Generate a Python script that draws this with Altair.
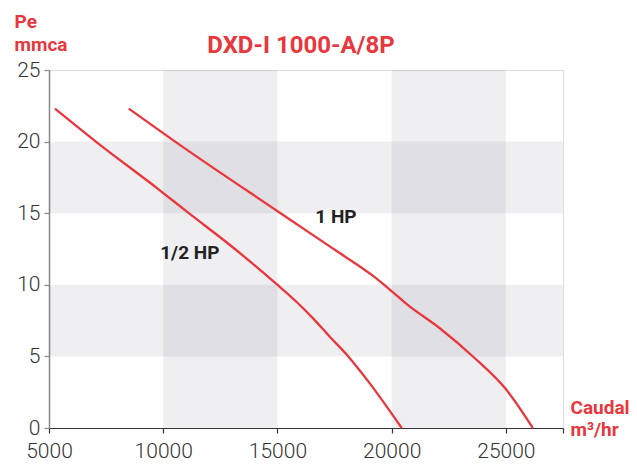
import altair as alt
import pandas as pd

# ---- data ----
half_x = [5260, 7050, 9850, 11120, 12920, 14965, 15840, 16570, 17300, 18100, 19050, 20440]
half_y = [22.3, 20.0, 16.6, 15.0, 12.78, 10.04, 8.8, 7.64, 6.36, 5.0, 3.1, 0.0]
one_x = [8490, 10520, 15135, 16900, 17740, 19200, 19930, 20660, 22120, 23580, 25040, 26180]
one_y = [22.3, 20.0, 15.0, 13.1, 12.2, 10.6, 9.65, 8.65, 6.95, 4.96, 2.63, 0.0]

label_text = ["1/2 HP", "1 HP"]
label_x = [11165, 17560]
label_y = [12.25, 14.72]

col_bands_start = [10000, 20000]
col_bands_end = [15000, 25000]
row_bands_start = [5, 15]
row_bands_end = [10, 20]

x_ticks = [5000, 10000, 15000, 20000, 25000, 27500]
y_ticks = [0, 5, 10, 15, 20, 25]

RED = "#e8373d"
FONT = "Roboto"

curves = pd.DataFrame(
    [{"q": x, "p": y, "s": "1/2 HP"} for x, y in zip(half_x, half_y)]
    + [{"q": x, "p": y, "s": "1 HP"} for x, y in zip(one_x, one_y)]
)
labels = pd.DataFrame({"t": label_text, "q": label_x, "p": label_y})
cols = pd.DataFrame({"x0": col_bands_start, "x1": col_bands_end, "y0": 0, "y1": 25})
rows = pd.DataFrame({"x0": 5000, "x1": 27500, "y0": row_bands_start, "y1": row_bands_end})

xs = alt.Scale(domain=[5000, 27500], nice=False, zero=False)
ys = alt.Scale(domain=[0, 25], nice=False)

x_axis = alt.Axis(
    values=x_ticks, format="d",
    labelExpr="datum.value == 27500 ? '' : datum.label",
    labelFont=FONT, labelFontSize=21, labelFontWeight=300, labelColor="#333333", labelPadding=7,
    tickSize=5, tickColor="#333333", domainColor="#333333", domainWidth=1.2, tickWidth=1.2,
    grid=False, labelFlush=False,
    title=["Caudal", "m³/hr"], titleFont=FONT, titleFontSize=19, titleFontWeight="bold",
    titleColor=RED, titleAlign="left", titleBaseline="alphabetic", titleAngle=0,
    titleX=521, titleY=-15, titleLineHeight=22,
)
y_axis = alt.Axis(
    values=y_ticks,
    labelFont=FONT, labelFontSize=21, labelFontWeight=300, labelColor="#333333", labelPadding=4,
    tickSize=5, tickColor="#888888", domainColor="#888888", domainWidth=1.5, tickWidth=1.2,
    grid=False,
    title=["Pe", "mmca"], titleFont=FONT, titleFontSize=19, titleFontWeight="bold",
    titleColor=RED, titleAlign="left", titleBaseline="alphabetic", titleAngle=0,
    titleX=-35, titleY=-43, titleLineHeight=23,
)

band_color = "#36364f"
band_op = 0.08

col_layer = alt.Chart(cols).mark_rect(color=band_color, opacity=band_op).encode(
    x=alt.X("x0:Q", scale=xs, axis=x_axis), x2="x1:Q",
    y=alt.Y("y0:Q", scale=ys, axis=y_axis), y2="y1:Q",
)
row_layer = alt.Chart(rows).mark_rect(color=band_color, opacity=band_op).encode(
    x=alt.X("x0:Q", scale=xs), x2="x1:Q",
    y=alt.Y("y0:Q", scale=ys), y2="y1:Q",
)
line_layer = alt.Chart(curves).mark_line(color=RED, strokeWidth=2.3, interpolate="monotone").encode(
    x=alt.X("q:Q", scale=xs),
    y=alt.Y("p:Q", scale=ys),
    detail="s:N",
)
text_layer = alt.Chart(labels).mark_text(
    font=FONT, fontSize=19, fontWeight="bold", color="#222222",
    align="center", baseline="middle",
).encode(
    x=alt.X("q:Q", scale=xs),
    y=alt.Y("p:Q", scale=ys),
    text="t:N",
)

chart = alt.layer(col_layer, row_layer, line_layer, text_layer).properties(
    width=514, height=358,
    title=alt.TitleParams(
        "DXD-I 1000-A/8P", font=FONT, fontSize=24, fontWeight="bold", color=RED,
        anchor="middle", frame="group", dx=-5, offset=-65, baseline="alphabetic",
    ),
    autosize="none",
    padding={"left": 41, "top": 62, "right": 66, "bottom": 38},
).configure_view(fill="#f2f2f2", stroke=None).configure(background="white")

chart.save("out.html", embed_options={"renderer": "svg", "actions": False})
